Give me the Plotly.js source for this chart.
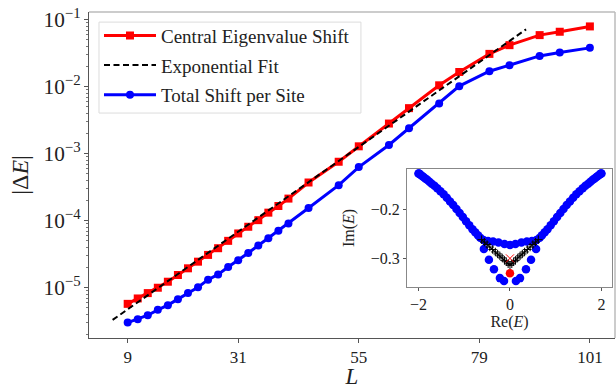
<!DOCTYPE html>
<html>
<head>
<meta charset="utf-8">
<script src="https://cdn.plot.ly/plotly-3.0.1.min.js"></script>
<style>html,body{margin:0;padding:0;background:#fff}#chart{width:616px;height:389px}</style>
</head>
<body>
<div id="chart"></div>
<script>
// Main panel data
const L = [9,11,13,15,17,19,21,23,25,27,29,31,33,35,37,39,41,45,51,55,61,65,71,75,81,85,91,95,101];
const centralShift = [5.75e-6,6.92e-6,8.32e-6,1.0e-5,1.23e-5,1.55e-5,1.95e-5,2.45e-5,3.09e-5,3.89e-5,5.01e-5,6.46e-5,8.13e-5,1.02e-4,1.32e-4,1.66e-4,2.14e-4,3.72e-4,7.59e-4,1.29e-3,2.82e-3,4.79e-3,1.05e-2,1.66e-2,3.09e-2,4.17e-2,5.89e-2,6.61e-2,7.94e-2];
const totalShift = [3.02e-6,3.39e-6,3.89e-6,4.68e-6,5.50e-6,6.76e-6,8.32e-6,1.02e-5,1.32e-5,1.58e-5,2.04e-5,2.57e-5,3.31e-5,4.27e-5,5.50e-5,7.08e-5,9.12e-5,1.55e-4,3.39e-4,6.31e-4,1.35e-3,2.40e-3,5.62e-3,1.02e-2,1.70e-2,2.09e-2,2.88e-2,3.24e-2,3.80e-2];
const fitL = [6, 88.3];
const fitVal = [3.31e-6, 7.19e-2];
const xTicks = [9,31,55,79,101];

// Inset data (complex spectrum)
const branchRe = [-2.00,-1.99,-1.97,-1.95,-1.92,-1.89,-1.85,-1.81,-1.76,-1.71,-1.65,-1.59,-1.52,-1.45,-1.38,-1.31,-1.24,-1.17,-1.10,-1.03,-0.96,-0.89,-0.82,-0.76,-0.70,-0.65,
  0.65,0.70,0.76,0.82,0.89,0.96,1.03,1.10,1.17,1.24,1.31,1.38,1.45,1.52,1.59,1.65,1.71,1.76,1.81,1.85,1.89,1.92,1.95,1.97,1.99,2.00];
const branchIm = [-0.128,-0.128,-0.129,-0.131,-0.133,-0.135,-0.138,-0.141,-0.145,-0.149,-0.153,-0.158,-0.164,-0.170,-0.177,-0.185,-0.192,-0.200,-0.208,-0.216,-0.225,-0.233,-0.241,-0.247,-0.253,-0.258,
  -0.258,-0.253,-0.247,-0.241,-0.233,-0.225,-0.216,-0.208,-0.200,-0.192,-0.185,-0.177,-0.170,-0.164,-0.158,-0.153,-0.149,-0.145,-0.141,-0.138,-0.135,-0.133,-0.131,-0.129,-0.128,-0.128];
const rowRe = [-0.58,-0.48,-0.37,-0.25,-0.12,0,0.12,0.25,0.37,0.48,0.58];
const rowIm = [-0.263,-0.265,-0.266,-0.268,-0.271,-0.273,-0.271,-0.268,-0.266,-0.265,-0.263];
const lowerRe = [-0.57,-0.46,-0.35,-0.22,-0.13,0.13,0.22,0.35,0.46,0.57];
const lowerIm = [-0.281,-0.303,-0.322,-0.340,-0.346,-0.346,-0.340,-0.322,-0.303,-0.281];
const vRe = [-0.62,-0.56,-0.50,-0.44,-0.38,-0.32,-0.27,-0.22,-0.17,-0.12,-0.08,-0.04,0,0.04,0.08,0.12,0.17,0.22,0.27,0.32,0.38,0.44,0.50,0.56,0.62];
const vIm = [-0.262,-0.267,-0.272,-0.277,-0.282,-0.287,-0.291,-0.295,-0.299,-0.304,-0.307,-0.311,-0.314,-0.311,-0.307,-0.304,-0.299,-0.295,-0.291,-0.287,-0.282,-0.277,-0.272,-0.267,-0.262];
const centerRe = [0], centerIm = [-0.330];
const crossRe = [0], crossIm = [-0.300];

const FONT = "Liberation Serif, DejaVu Serif, serif";
const blueDot = {symbol:'circle', size:8.5, color:'#0000ff'};

const traces = [
  {x: L, y: centralShift, type:'scatter', mode:'lines+markers', name:'Central Eigenvalue Shift', legendgroup:'a',
   line:{color:'#ff0000', width:3}, marker:{symbol:'square', size:8, color:'#ff0000'}, xaxis:'x', yaxis:'y'},
  {x: fitL, y: fitVal, type:'scatter', mode:'lines', name:'Exponential Fit', legendgroup:'b',
   line:{color:'#000000', width:2, dash:'6px,3.5px'}, xaxis:'x', yaxis:'y'},
  {x: L, y: totalShift, type:'scatter', mode:'lines+markers', name:'Total Shift per Site', legendgroup:'c',
   line:{color:'#0000ff', width:3}, marker:{symbol:'circle', size:8, color:'#0000ff'}, xaxis:'x', yaxis:'y'},
  {x: branchRe, y: branchIm, type:'scatter', mode:'markers', showlegend:false, marker:blueDot, xaxis:'x2', yaxis:'y2'},
  {x: rowRe, y: rowIm, type:'scatter', mode:'markers', showlegend:false, marker:blueDot, xaxis:'x2', yaxis:'y2'},
  {x: lowerRe, y: lowerIm, type:'scatter', mode:'markers', showlegend:false, marker:blueDot, xaxis:'x2', yaxis:'y2'},
  {x: vRe, y: vIm, type:'scatter', mode:'lines+markers', showlegend:false,
   line:{color:'#000', width:1.3}, marker:{symbol:'cross-thin', size:6, line:{color:'#000', width:1}}, xaxis:'x2', yaxis:'y2'},
  {x: centerRe, y: centerIm, type:'scatter', mode:'markers', showlegend:false,
   marker:{symbol:'circle', size:8.5, color:'#ff0000'}, xaxis:'x2', yaxis:'y2'},
  {x: crossRe, y: crossIm, type:'scatter', mode:'markers', showlegend:false,
   marker:{symbol:'x-thin', size:8, line:{color:'#ff0000', width:1}}, xaxis:'x2', yaxis:'y2'}
];

const layout = {
  width:616, height:389,
  margin:{l:89, r:1, t:12, b:51},
  paper_bgcolor:'#fff', plot_bgcolor:'#fff',
  font:{family:FONT, size:16, color:'#222'},
  showlegend:true,
  legend:{x:0.019, y:0.986, xanchor:'left', yanchor:'top', bgcolor:'rgba(0,0,0,0)', borderwidth:0,
    font:{family:FONT, size:19, color:'#222'}, tracegroupgap:2, traceorder:'grouped', itemwidth:52},
  xaxis:{domain:[0,1], range:[1.3,106], tickvals:xTicks, ticktext:xTicks.map(String), ticks:'outside', ticklen:4,
    tickcolor:'#555', showline:true, linecolor:'#555', linewidth:1, showgrid:false, zeroline:false,
    tickfont:{family:FONT, size:17, color:'#222'},
    title:{text:'<i>L</i>', font:{family:FONT, size:23, color:'#222'}, standoff:6}},
  yaxis:{domain:[0,1], type:'log', range:[-5.75,-0.885], dtick:1, exponentformat:'power', showexponent:'all',
    ticks:'outside', ticklen:4, tickcolor:'#555', showline:true, linecolor:'#555', linewidth:1, showgrid:false, zeroline:false,
    minor:{dtick:'D1', ticks:'outside', ticklen:2, tickcolor:'#777', showgrid:false},
    tickfont:{family:FONT, size:17, color:'#222'},
    title:{text:'|Δ<i>E</i>|', font:{family:FONT, size:24, color:'#222'}, standoff:8}},
  xaxis2:{domain:[0.6046,0.9943], anchor:'y2', range:[-2.25,2.23], tickvals:[-2,0,2], ticktext:['−2','0','2'],
    ticks:'outside', ticklen:3, tickcolor:'#555', showline:true, mirror:true, linecolor:'#888', linewidth:1,
    showgrid:false, zeroline:false, tickfont:{family:FONT, size:16, color:'#222'},
    title:{text:'Re(<i>E</i>)', font:{family:FONT, size:16, color:'#222'}, standoff:3}},
  yaxis2:{domain:[0.1564,0.5184], anchor:'x2', range:[-0.358,-0.119], tickvals:[-0.2,-0.3], ticktext:['−0.2','−0.3'],
    ticks:'outside', ticklen:3, tickcolor:'#555', showline:true, mirror:true, linecolor:'#888', linewidth:1,
    showgrid:false, zeroline:false, tickfont:{family:FONT, size:16, color:'#222'},
    title:{text:'Im(<i>E</i>)', font:{family:FONT, size:16, color:'#222'}, standoff:12}},
  shapes:[
    {type:'line', xref:'paper', yref:'paper', x0:0, x1:1, y0:1, y1:1, line:{color:'#bbbbbb', width:1.5}},
    {type:'line', xref:'paper', yref:'paper', x0:1, x1:1, y0:0, y1:1, line:{color:'#bbbbbb', width:1.5}},
    {type:'rect', xref:'paper', yref:'paper', x0:0.019, x1:0.517, y0:0.690, y1:0.969,
     line:{color:'#dcdcdc', width:1}, fillcolor:'rgba(255,255,255,0.8)', layer:'above'}
  ]
};

Plotly.newPlot('chart', traces, layout, {displayModeBar:false, staticPlot:true});
</script>
</body>
</html>
